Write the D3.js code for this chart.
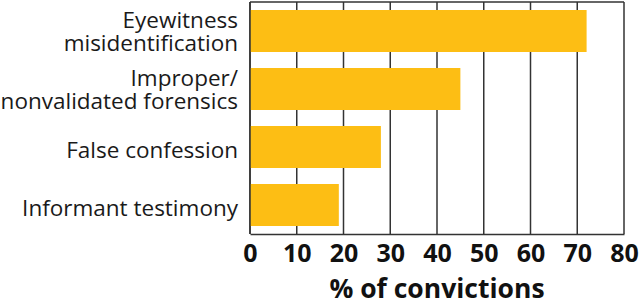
<!DOCTYPE html>
<html>
<head>
<meta charset="utf-8">
<script src="https://cdn.jsdelivr.net/npm/d3@7"></script>
<style>
body { margin: 0; background: #fff; }
</style>
</head>
<body>
<div id="chart"></div>
<script>
// data
var causes = [["Eyewitness", "misidentification"], ["Improper/", "nonvalidated forensics"], ["False confession"], ["Informant testimony"]]
var percents = [72, 45, 28, 19]
var ticks = [0, 10, 20, 30, 40, 50, 60, 70, 80]

var width = 640, height = 305
var plotLeft = 250, plotRight = 624, plotTop = 2, plotBottom = 234

var svg = d3.select("#chart").append("svg")
    .attr("width", width)
    .attr("height", height)

var x = d3.scaleLinear().domain([0, 80]).range([plotLeft, plotRight])
var y = d3.scaleBand().domain(d3.range(causes.length)).range([plotTop, plotBottom])
    .paddingInner(0.276).paddingOuter(0.138)

// vertical grid lines
svg.append("g")
    .selectAll("line")
    .data(ticks)
    .enter()
    .append("line")
    .attr("x1", function(d){ return x(d) })
    .attr("x2", function(d){ return x(d) })
    .attr("y1", plotTop)
    .attr("y2", plotBottom)
    .attr("stroke", "#333")
    .attr("stroke-width", 1.5)

// top border
svg.append("line")
    .attr("x1", plotLeft).attr("x2", plotRight)
    .attr("y1", plotTop).attr("y2", plotTop)
    .attr("stroke", "#333").attr("stroke-width", 1.5)

svg.append("g")
    .selectAll("rect")
    .data(percents)
    .enter()
    .append("rect")
    .attr("x", x(0))
    .attr("y", function(d, i){ return y(i) })
    .attr("width", function(d){ return x(d) - x(0) })
    .attr("height", y.bandwidth())
    .attr("fill", "#fdbe14")

// bottom axis
var xAxis = svg.append("g")
    .attr("transform", "translate(0," + plotBottom + ")")
    .call(d3.axisBottom(x).tickValues(ticks).tickSize(0).tickPadding(10))
xAxis.select(".domain").attr("stroke", "#333").attr("stroke-width", 1.5)
xAxis.selectAll("text")
    .attr("font-family", "Open Sans")
    .attr("font-weight", "bold")
    .attr("font-size", 25)
    .attr("fill", "#111")

// left axis line
svg.append("line")
    .attr("x1", plotLeft).attr("x2", plotLeft)
    .attr("y1", plotTop).attr("y2", plotBottom)
    .attr("stroke", "#333").attr("stroke-width", 1.5)

// category labels
var labels = svg.append("g")
    .selectAll("text")
    .data(causes)
    .enter()
    .append("text")
    .attr("text-anchor", "end")
    .attr("font-family", "Open Sans")
    .attr("font-size", 22.5)
    .attr("fill", "#1a1a1a")
    .attr("y", function(d, i){ return y(i) + y.bandwidth() / 2 })

labels.selectAll("tspan")
    .data(function(d){ return d })
    .enter()
    .append("tspan")
    .attr("x", 238)
    .attr("dy", function(d, i, nodes){
        var n = nodes.length
        return i == 0 ? (n == 1 ? "0.5em" : "-0.13em") : "1.02em"
    })
    .text(function(d){ return d })

svg.append("text")
    .attr("x", (plotLeft + plotRight) / 2)
    .attr("y", 298)
    .attr("text-anchor", "middle")
    .attr("font-family", "Open Sans")
    .attr("font-weight", "bold")
    .attr("font-size", 26.5)
    .attr("fill", "#111")
    .text("% of convictions")
</script>
</body>
</html>
